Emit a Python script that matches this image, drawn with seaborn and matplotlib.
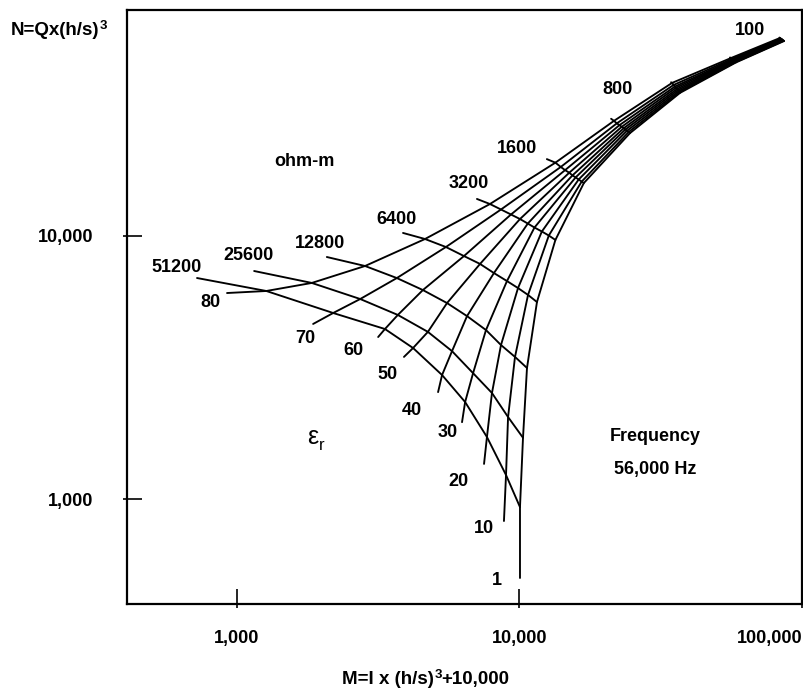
import matplotlib
matplotlib.use("Agg")
import matplotlib.pyplot as plt
import seaborn as sns
from matplotlib.ticker import FixedLocator, FixedFormatter, NullFormatter

# ---------------- data ----------------
rho_values = [100, 200, 400, 800, 1600, 3200, 6400, 12800, 25600, 51200]   # ohm-m
eps_values = [1, 10, 20, 30, 40, 50, 60, 70, 80]                             # relative permittivity

# grid intersections: rows = rho, columns = eps (1 ... 80)
M_grid = [
    [86400, 86100, 85900, 85600, 85200, 85000, 84500, 84100, 83600],
    [58400, 58200, 58000, 57700, 57500, 57200, 56900, 56500, 56100],
    [37000, 36800, 36600, 36300, 36100, 35800, 35500, 35100, 34700],
    [24600, 24400, 24000, 23700, 23400, 23000, 22600, 22100, 21600],
    [16900, 16600, 16200, 15800, 15400, 15000, 14500, 14000, 13400],
    [13400, 12700, 12000, 11300, 10700, 10040, 9330, 8600, 7860],
    [11530, 10720, 9880, 9030, 8120, 7250, 6360, 5490, 4630],
    [10630, 9640, 8600, 7610, 6520, 5540, 4550, 3680, 2840],
    [10290, 9110, 7990, 6850, 5770, 4740, 3710, 2730, 1840],
    [10040, 8960, 7670, 6420, 5320, 4200, 3340, 2190, 1270],
]
N_grid = [
    [55100, 55200, 55400, 55500, 55700, 55900, 56100, 56300, 56600],
    [45700, 45800, 46000, 46200, 46400, 46600, 46800, 47100, 47500],
    [35000, 35200, 35500, 35800, 36200, 36600, 37000, 37500, 38200],
    [24600, 24900, 25100, 25400, 25700, 26000, 26400, 26800, 27400],
    [15900, 16100, 16400, 16700, 17000, 17400, 17800, 18300, 19000],
    [9660, 10040, 10400, 10770, 11150, 11600, 12070, 12610, 13230],
    [5610, 5970, 6340, 6740, 7230, 7830, 8390, 9080, 9740],
    [3150, 3470, 3850, 4390, 4960, 5560, 6230, 6920, 7690],
    [1710, 2050, 2530, 3010, 3650, 4320, 5010, 5760, 6630],
    [932, 1234, 1721, 2338, 2961, 3751, 4430, 5096, 6179],
]
# free (left) ends of the resistivity curves
M_rho_start = [83200, 55600, 34400, 21100, 12500, 7070, 3870, 2080, 1150, 722]
N_rho_start = [56800, 47700, 38400, 27900, 19600, 13830, 10270, 8320, 7360, 6922]
# free (lower) ends of the permittivity curves
M_eps_end = [10040, 8810, 7490, 6260, 5150, 3900, 3160, 1860, 922]
N_eps_end = [501, 825, 1360, 1960, 2550, 3470, 4130, 4630, 6070]

rho_label_text = ["100", "800", "1600", "3200", "6400", "12800", "25600", "51200"]
eps_label_text = ["80", "70", "60", "50", "40", "30", "20", "10", "1"]

x_ticks = [1000, 10000, 100000]
x_tick_labels = ["1,000", "10,000", "100,000"]
y_ticks = [1000, 10000]
y_tick_labels = ["1,000", "10,000"]

# ---------------- figure ----------------
W, H = 804, 691
sns.set_theme(style="white")
plt.rcParams['font.family'] = ['Liberation Sans', 'DejaVu Sans']

fig = plt.figure(figsize=(W / 100, H / 100), dpi=100)
fig.patch.set_facecolor("white")
ax = fig.add_axes([127 / W, 1 - 604 / H, (802 - 127) / W, (604 - 10) / H])
ax.set_facecolor("white")
ax.set_xscale("log")
ax.set_yscale("log")

LW = 1.35
for i, rho in enumerate(rho_values):
    xs = [M_rho_start[i]] + M_grid[i][::-1]
    ys = [N_rho_start[i]] + N_grid[i][::-1]
    sns.lineplot(x=xs, y=ys, sort=False, estimator=None, color="black",
                 lw=LW, ax=ax, legend=False)
for j, eps in enumerate(eps_values):
    xs = [M_grid[i][j] for i in range(len(rho_values))] + [M_eps_end[j]]
    ys = [N_grid[i][j] for i in range(len(rho_values))] + [N_eps_end[j]]
    sns.lineplot(x=xs, y=ys, sort=False, estimator=None, color="black",
                 lw=LW, ax=ax, legend=False)

ax.set_xlim(408, 100000)
ax.set_ylim(399, 72300)
ax.set_xlabel("")
ax.set_ylabel("")

for s in ax.spines.values():
    s.set_visible(True)
    s.set_color("black")
    s.set_linewidth(1.6)

ax.xaxis.remove_overlapping_locs = False
ax.yaxis.remove_overlapping_locs = False
ax.xaxis.set_major_locator(FixedLocator(x_ticks))
ax.xaxis.set_major_formatter(FixedFormatter(x_tick_labels))
ax.xaxis.set_minor_locator(FixedLocator(x_ticks))
ax.xaxis.set_minor_formatter(NullFormatter())
ax.yaxis.set_major_locator(FixedLocator(y_ticks))
ax.yaxis.set_major_formatter(FixedFormatter(y_tick_labels))
ax.yaxis.set_minor_locator(FixedLocator(y_ticks))
ax.yaxis.set_minor_formatter(NullFormatter())

ax.tick_params(axis="x", which="major", direction="in", length=10.5, width=1.2,
               color="black", bottom=True, top=False, pad=18.5,
               labelsize=13, labelcolor="black")
ax.tick_params(axis="y", which="major", direction="in", length=10.5, width=1.2,
               color="black", left=True, right=False, pad=24,
               labelsize=13, labelcolor="black")
ax.tick_params(axis="both", which="minor", direction="out", length=3, width=1.2,
               color="black", bottom=True, left=True, top=False, right=False)
for lab in ax.get_xticklabels() + ax.get_yticklabels():
    lab.set_fontweight("bold")
ax.get_xticklabels()[-1].set_horizontalalignment("right")

renderer = fig.canvas.get_renderer()


def ftext(px, py, s, **kw):
    kw.setdefault("ha", "center")
    kw.setdefault("va", "baseline")
    kw.setdefault("fontsize", 13)
    kw.setdefault("fontweight", "bold")
    kw.setdefault("color", "black")
    return fig.text(px / W, 1 - py / H, s, **kw)


def rich(px, py, parts, align="center"):
    """parts: (string, fontsize, rise in px) laid out left to right"""
    texts, widths = [], []
    for s, fs, rise in parts:
        t = ftext(0, py - rise, s, fontsize=fs, ha="left")
        texts.append(t)
        widths.append(t.get_window_extent(renderer).width)
    x = px - sum(widths) / 2 if align == "center" else px
    for t, w, (s, fs, rise) in zip(texts, widths, parts):
        t.set_position((x / W, 1 - (py - rise) / H))
        x += w


# axis titles
rich(11, 35, [("N=Qx(h/s)", 13.5, 0), ("3", 9.5, 6)], align="left")
rich(426, 684, [("M=I x (h/s)", 13.5, 0), ("3", 9.5, 6), ("+10,000", 13.5, 0)])

# resistivity labels
rho_label_px = [(750, 35), (618, 94), (517, 153), (469, 188), (397, 224),
                (320, 248), (249, 260), (177, 272)]
for t, (px, py) in zip(rho_label_text, rho_label_px):
    ftext(px, py, t)

# permittivity labels
eps_label_px = [(210, 307), (305, 343), (353, 355), (388, 379), (412, 415),
                (448, 437), (458, 486), (484, 533), (497, 585)]
for t, (px, py) in zip(eps_label_text, eps_label_px):
    ftext(px, py, t)

ftext(304, 166, "ohm-m")
ftext(313, 444, "ε", fontweight="normal", fontsize=18)
ftext(322, 450, "r", fontweight="normal", fontsize=12)
ftext(655, 441, "Frequency")
ftext(655, 474, "56,000 Hz")

fig.savefig("out.png", dpi=100, facecolor="white")
